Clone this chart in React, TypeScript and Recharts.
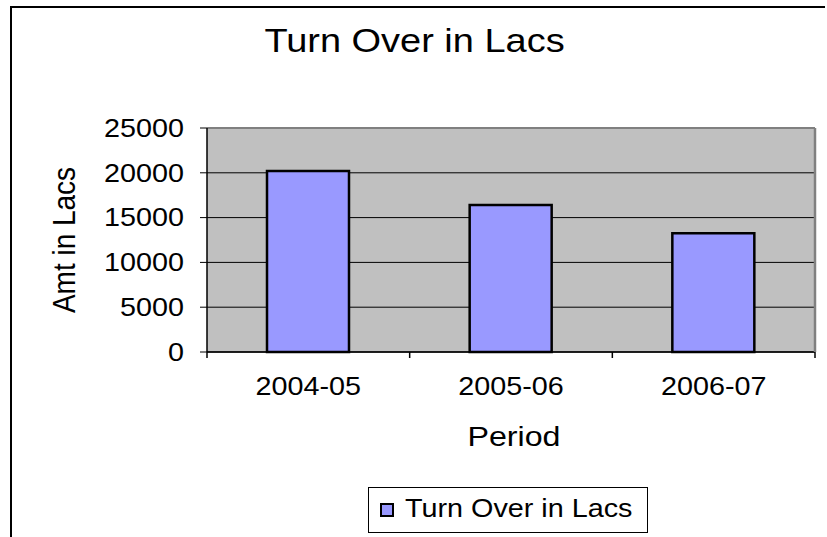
import React from 'react'
import {
    BarChart,
    Bar,
    XAxis,
    YAxis,
    CartesianGrid,
    ReferenceLine,
    Legend,
} from 'recharts'

const categories = ['2004-05', '2005-06', '2006-07']
const turnover = [20200, 16400, 13250]
const yTicks = [0, 5000, 10000, 15000, 20000, 25000]

const data = categories.map((period, i) => ({ period, turnover: turnover[i] }))

const FONT = '"Liberation Sans", Arial, sans-serif'
// the reference text is a little wider than plain Arial
const STRETCH = 1.15
const W = 827
const H = 537
const PLOT_LEFT = 207
const PLOT_RIGHT = 815
const PLOT_BOTTOM = 352
const BAND = (PLOT_RIGHT - PLOT_LEFT) / categories.length

function SText({ x, y, size, anchor = 'middle', dy, children }: any) {
    return (
        <text
            transform={`translate(${x},${y}) scale(${STRETCH},1)`}
            x={0}
            y={0}
            dy={dy}
            fontSize={size}
            fontFamily={FONT}
            textAnchor={anchor}
            fill="#000"
        >
            {children}
        </text>
    )
}

const AmountTick = ({ x, y, payload }: any) => (
    <SText x={x} y={y} size={25} anchor="end" dy="0.355em">{payload.value}</SText>
)

const PeriodTick = ({ x, payload, index }: any) => (
    <g>
        <line x1={x - BAND / 2} x2={x - BAND / 2} y1={PLOT_BOTTOM} y2={PLOT_BOTTOM + 6} stroke="#000" strokeWidth={1.5} />
        {index === categories.length - 1 && (
            <line x1={x + BAND / 2} x2={x + BAND / 2} y1={PLOT_BOTTOM} y2={PLOT_BOTTOM + 6} stroke="#000" strokeWidth={1.5} />
        )}
        <SText x={x} y={PLOT_BOTTOM + 43} size={25}>{payload.value}</SText>
    </g>
)

const PeriodLabel = ({ viewBox }: any) => {
    const cx = viewBox ? viewBox.x + viewBox.width / 2 : (PLOT_LEFT + PLOT_RIGHT) / 2
    return <SText x={cx + 3} y={446} size={28}>Period</SText>
}

const AmountLabel = ({ viewBox }: any) => {
    const cy = viewBox ? viewBox.y + viewBox.height / 2 : 240
    return (
        <text
            transform={`translate(75,${cy}) scale(${STRETCH},1) rotate(-90)`}
            x={0}
            y={0}
            fontSize={28}
            fontFamily={FONT}
            textAnchor="middle"
            fill="#000"
        >
            Amt in Lacs
        </text>
    )
}

const LegendBox = ({ payload }: any) => (
    <div
        style={{
            position: 'relative',
            width: 280,
            height: 46,
            boxSizing: 'border-box',
            border: '1px solid #000',
            background: '#fff',
            fontFamily: FONT,
        }}
    >
        {(payload || []).map((entry: any) => (
            <React.Fragment key={entry.value}>
                <div
                    style={{
                        position: 'absolute',
                        left: 11,
                        top: 15,
                        width: 14,
                        height: 14,
                        boxSizing: 'border-box',
                        border: '2px solid #000',
                        background: '#9999FF',
                    }}
                />
                <span
                    style={{
                        position: 'absolute',
                        left: 36,
                        top: 8,
                        fontSize: 25,
                        lineHeight: '25px',
                        whiteSpace: 'nowrap',
                        display: 'inline-block',
                        transform: `scaleX(${STRETCH})`,
                        transformOrigin: 'left',
                        color: '#000',
                    }}
                >
                    {entry.value}
                </span>
            </React.Fragment>
        ))}
    </div>
)

export default function App() {
    return (
        <div style={{ position: 'absolute', left: 0, top: 0, width: W, height: H, overflow: 'hidden', background: '#fff' }}>
            <div
                style={{
                    position: 'absolute',
                    left: 10,
                    top: 6,
                    width: 813,
                    height: 600,
                    borderLeft: '2px solid #000',
                    borderTop: '2px solid #000',
                }}
            />
            <div
                style={{
                    position: 'absolute',
                    left: 0,
                    top: 24,
                    width: 830,
                    textAlign: 'center',
                    fontFamily: FONT,
                    fontSize: 33,
                    lineHeight: '33px',
                    color: '#000',
                }}
            >
                <span style={{ display: 'inline-block', transform: `scaleX(${STRETCH})` }}>Turn Over in Lacs</span>
            </div>
            <div style={{ position: 'absolute', left: 0, top: 0 }}>
                <BarChart width={W} height={H} data={data} margin={{ top: 128, right: 11, left: 20, bottom: 85 }}>
                    <CartesianGrid vertical={false} stroke="#000" strokeWidth={1} fill="#C0C0C0" fillOpacity={1} yAxisId="left" />
                    <XAxis
                        dataKey="period"
                        height={100}
                        interval={0}
                        tickLine={false}
                        axisLine={{ stroke: '#000', strokeWidth: 1.5 }}
                        tick={<PeriodTick />}
                        label={<PeriodLabel />}
                    />
                    <YAxis
                        yAxisId="left"
                        width={187}
                        domain={[0, 25000]}
                        ticks={yTicks}
                        interval={0}
                        tickSize={7}
                        tickMargin={16}
                        tickLine={{ stroke: '#000' }}
                        axisLine={{ stroke: '#000', strokeWidth: 1.5 }}
                        tick={<AmountTick />}
                        label={<AmountLabel />}
                    />
                    <YAxis
                        yAxisId="right"
                        orientation="right"
                        width={1}
                        domain={[0, 25000]}
                        ticks={yTicks}
                        tick={false}
                        tickLine={false}
                        axisLine={{ stroke: '#808080', strokeWidth: 2.5 }}
                    />
                    <ReferenceLine yAxisId="left" y={25000} stroke="#808080" strokeWidth={2} />
                    <Bar
                        yAxisId="left"
                        dataKey="turnover"
                        name="Turn Over in Lacs"
                        fill="#9999FF"
                        stroke="#000"
                        strokeWidth={2.5}
                        barSize={82}
                        isAnimationActive={false}
                    />
                    <Legend
                        layout="horizontal"
                        verticalAlign="middle"
                        align="center"
                        wrapperStyle={{ left: 368, top: 487, width: 280, height: 46 }}
                        content={<LegendBox />}
                    />
                </BarChart>
            </div>
        </div>
    )
}
